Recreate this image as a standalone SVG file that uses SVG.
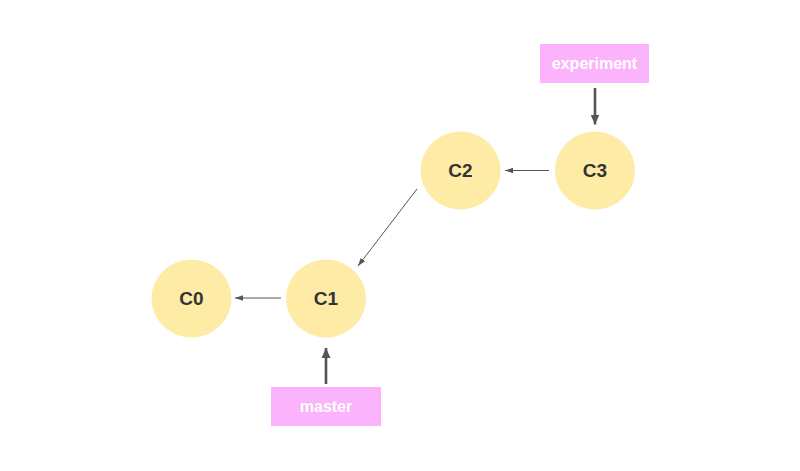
<svg xmlns="http://www.w3.org/2000/svg" width="800" height="471" viewBox="0 0 800 471">
<style>
.node{fill:#fdeba6;}
.nt{font-family:"Liberation Sans",Arial,sans-serif;font-weight:bold;font-size:19px;fill:#333;text-anchor:middle;}
.ref{fill:#fbb3fb;}
.rt{font-family:"Liberation Sans",Arial,sans-serif;font-weight:bold;font-size:16px;fill:#fff;text-anchor:middle;}
.thin{stroke:#555;stroke-width:1;fill:none;}
.thick{stroke:#555;stroke-width:2.6;fill:none;}
</style>
<defs>
<marker id="ah" viewBox="0 0 10 10" refX="10" refY="5" markerWidth="8" markerHeight="8" markerUnits="userSpaceOnUse" orient="auto">
<path d="M0,1.5 L10,5 L0,8.5 Z" fill="#555"/>
</marker>
<marker id="ahb" viewBox="0 0 10 10" refX="10" refY="5" markerWidth="10" markerHeight="10" markerUnits="userSpaceOnUse" orient="auto">
<path d="M0,0.5 L10,5 L0,9.5 Z" fill="#555"/>
</marker>
</defs>
<rect width="800" height="471" fill="#fff"/>
<g id="connectors">
<line class="thin" x1="549" y1="170.5" x2="505" y2="170.5" marker-end="url(#ah)"/>
<line class="thin" x1="417" y1="189" x2="358" y2="266" marker-end="url(#ah)"/>
<line class="thin" x1="281" y1="298" x2="235" y2="298" marker-end="url(#ah)"/>
<line class="thick" x1="595" y1="88" x2="595" y2="124.5" marker-end="url(#ahb)"/>
<line class="thick" x1="326" y1="384" x2="326" y2="348" marker-end="url(#ahb)"/>
</g>
<g id="C0"><ellipse class="node" cx="191.5" cy="298.5" rx="40" ry="39"/><text class="nt" x="191.5" y="305">C0</text></g>
<g id="C1"><ellipse class="node" cx="326" cy="298.5" rx="40" ry="39"/><text class="nt" x="326" y="305">C1</text></g>
<g id="C2"><ellipse class="node" cx="460.5" cy="170.5" rx="40" ry="39"/><text class="nt" x="460.5" y="177">C2</text></g>
<g id="C3"><ellipse class="node" cx="595" cy="170.5" rx="40" ry="39"/><text class="nt" x="595" y="177">C3</text></g>
<g id="experiment"><rect class="ref" x="540" y="44" width="109" height="39"/><text class="rt" x="594.5" y="69">experiment</text></g>
<g id="master"><rect class="ref" x="271" y="387" width="110" height="39"/><text class="rt" x="326" y="412">master</text></g>
</svg>
